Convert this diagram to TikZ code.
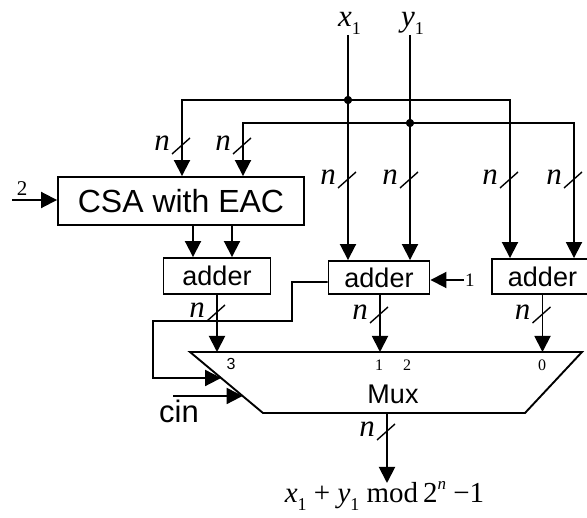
\documentclass[tikz,border=0pt]{standalone}
\usepackage{fontspec}
\setmainfont{Liberation Sans}
\newfontfamily\tms{Liberation Serif}
\usetikzlibrary{arrows.meta}
\newcommand\mysub[1]{\raisebox{-0.25em}{\fontsize{18}{18}\selectfont\upshape #1}}
\newcommand\mysup[1]{\raisebox{0.45em}{\fontsize{17}{17}\selectfont #1}}
\tikzset{
  wire/.style={line width=1.9pt},
  arr/.style={wire,-{Triangle[length=16pt,width=16pt]}},
  box/.style={draw,line width=1.9pt,inner sep=0pt},
  slashln/.style={line width=1.4pt},
  nlbl/.style={inner sep=0pt,font=\tms\itshape\fontsize{31}{31}\selectfont},
  bus/.pic={\draw[slashln] (-10,8) -- (8,-8); \node[nlbl] at (-20,-3) {n};},
  dotc/.style={circle,fill,inner sep=0pt,minimum size=8pt},
  addfont/.style={font=\fontsize{27}{27}\selectfont},
  smallser/.style={inner sep=0pt,font=\tms\fontsize{16}{16}\selectfont},
}
\begin{document}
\begin{tikzpicture}[x=1pt,y=-1pt]
\useasboundingbox (0,0) rectangle (587,518);

% boxes
\node[box,minimum width=246pt,minimum height=48pt,font=\fontsize{32}{32}\selectfont] (csa) at (181,201) {CSA with EAC};
\node[box,addfont,minimum width=107pt,minimum height=36pt] (add1) at (217,276) {adder};
\node[box,addfont,minimum width=101pt,minimum height=33pt] (add2) at (379,277.5) {adder};
\node[box,addfont,minimum width=101pt,minimum height=35pt] (add3) at (542.5,276.5) {adder};

% mux
\draw[line width=1.9pt] (190,352) coordinate (mtl) -- (582,352) -- (525,413) -- (263,413) coordinate (mbl) -- cycle;
\path (mtl) -- (mbl) coordinate[pos=0.426] (fbin) coordinate[pos=0.721] (cinin);
\node[inner sep=0pt,font=\fontsize{27}{27}\selectfont] (mux) at (393,394) {Mux};
\coordinate (mi3) at (217,352);
\coordinate (mi1) at (380,352);
\coordinate (mi0) at (542.5,352);
\node[inner sep=0pt,font=\fontsize{16}{16}\selectfont] (l3) at (231,364) {3};
\node[smallser] (l1) at (379,365) {1};
\node[smallser] (l2) at (407,365) {2};
\node[smallser] (l0) at (542,365) {0};

% inputs x1, y1
\node[anchor=base west,inner sep=0pt,font=\tms\itshape\fontsize{31}{31}\selectfont] (x1) at (338,27) {x\mysub{1}};
\node[anchor=base west,inner sep=0pt,font=\tms\itshape\fontsize{31}{31}\selectfont] (y1) at (401,27) {y\mysub{1}};
\coordinate (x1w) at (348,35);
\coordinate (y1w) at (410,35);
\draw[arr] (x1w) -- (x1w |- add2.north);
\draw[arr] (y1w) -- (y1w |- add2.north);

% distribution wires
\node[dotc] (d1) at (348,100) {};
\node[dotc] (d2) at (410,123) {};
\draw[arr] (d1.center) -| ([xshift=1pt]csa.north);
\draw[arr] (d1.center) -| ([xshift=-32.5pt]add3.north);
\draw[arr] (d2.center) -| ([xshift=62pt]csa.north);
\draw[arr] (d2.center) -| ([xshift=31.5pt]add3.north);
\node[dotc] at (d1) {};
\node[dotc] at (d2) {};

% CSA to adder
\draw[arr] ([xshift=12pt]csa.south) -- ([xshift=12pt]csa.south |- add1.north);
\draw[arr] ([xshift=51pt]csa.south) -- ([xshift=51pt]csa.south |- add1.north);

% "2" input
\coordinate (in2) at (12,200);
\node[anchor=base,inner sep=0pt,font=\tms\fontsize{21}{21}\selectfont] (two) at (22,196) {2};
\draw[arr] (in2) -- (in2 -| csa.west);

% "1" input
\node[anchor=west,inner sep=1pt,font=\tms\fontsize{19}{19}\selectfont] (one) at (464,280) {1};
\draw[arr] (one.west) -- (one.west -| add2.east);

% adder outputs
\draw[arr] (add1.south) -- (mi3);
\draw[arr] (add2.south -| mi1) -- (mi1);
\draw[arr] (add3.south) -- (mi0);

% feedback
\draw[arr] ([yshift=-4.5pt]add2.west) -| (292,321) -| (153,378) -- (fbin);

% cin
\node[anchor=base west,inner sep=0pt,font=\fontsize{31}{31}\selectfont] (cin) at (159,423) {cin};
\coordinate (cinsrc) at (173,396);
\draw[arr] (cinsrc) -- (cinin);

% output
\coordinate (mout) at (387,413);
\coordinate (oend) at (387,483);
\draw[arr] (mout) -- (oend);
\node[anchor=base,inner sep=0pt,font=\tms\fontsize{29}{29}\selectfont] (res) at (384.5,503)
  {\itshape x\mysub{1}\upshape\ + \itshape y\mysub{1}\upshape\ mod\,2\mysup{\itshape n}\ −1};

% bus width marks
\pic at (182,146) {bus};
\pic at (243,146) {bus};
\pic at (348,180) {bus};
\pic at (410,180) {bus};
\pic at (510,180) {bus};
\pic at (574,180) {bus};
\pic at (217,313) {bus};
\pic at (380,315) {bus};
\pic at (542.5,315) {bus};
\pic at (387,432) {bus};
\end{tikzpicture}
\end{document}
